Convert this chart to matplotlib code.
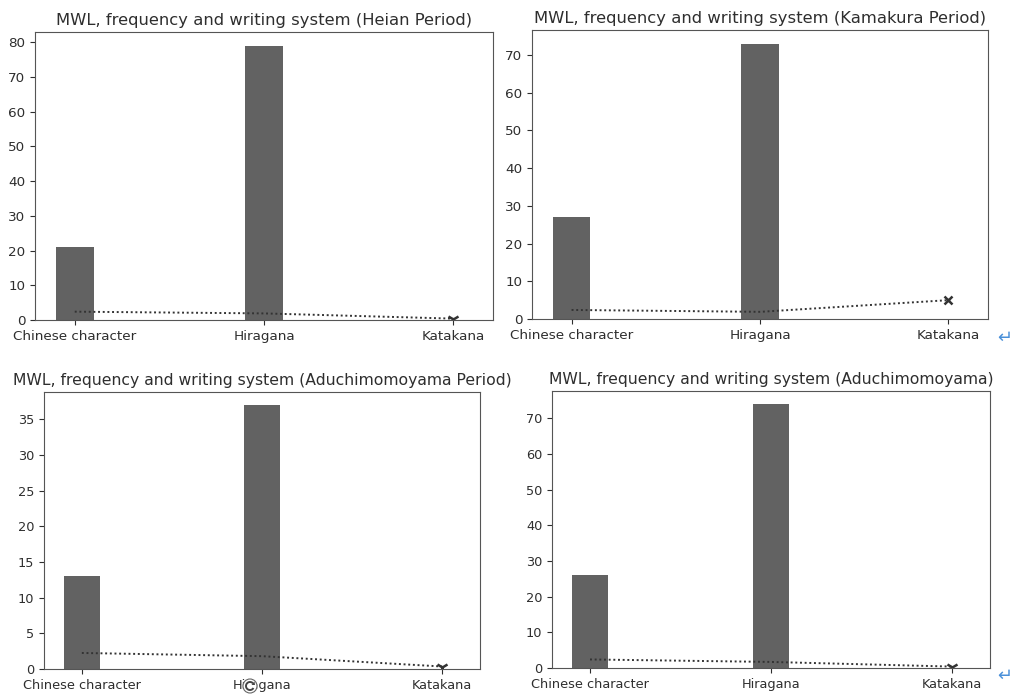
import matplotlib
matplotlib.use("Agg")
import matplotlib.pyplot as plt
from matplotlib.patches import Circle, Arc, Polygon

# Writing systems on the x axis
categories = ["Chinese character", "Hiragana", "Katakana"]

# Panel titles
titles = [
    "MWL, frequency and writing system (Heian Period)",
    "MWL, frequency and writing system (Kamakura Period)",
    "MWL, frequency and writing system (Aduchimomoyama Period)",
    "MWL, frequency and writing system (Aduchimomoyama)",
]

# Frequency (bars)
freq_heian = [21, 79, 0]
freq_kamakura = [27, 73, 0]
freq_aduchi_period = [13, 37, 0]
freq_aduchi = [26, 74, 0]

# Mean word length (dotted line)
mwl_heian = [2.4, 1.9, 0.4]
mwl_kamakura = [2.4, 1.9, 5.0]
mwl_aduchi_period = [2.25, 1.8, 0.35]
mwl_aduchi = [2.4, 1.7, 0.4]

W, H = 1013, 698
fig = plt.figure(figsize=(W / 100, H / 100), dpi=100)
fig.patch.set_facecolor("white")

# axes boxes in pixels: left, right, top, bottom
boxes = [
    (35, 493, 32, 320),
    (532, 988, 30, 319),
    (44, 480, 392, 669),
    (552, 990, 391, 668),
]
freqs = [freq_heian, freq_kamakura, freq_aduchi_period, freq_aduchi]
mwls = [mwl_heian, mwl_kamakura, mwl_aduchi_period, mwl_aduchi]
markers = ["1", "x", "1", "1"]
marker_sizes = [9, 6, 9, 9]
# the lower pair is shown a little smaller
scales = [1.0, 1.0, 0.957, 0.957]

text_color = "#2e2e2e"
for box, title, fr, mw, mk, ms, sc in zip(boxes, titles, freqs, mwls,
                                          markers, marker_sizes, scales):
    l, r, t, b = box
    ax = fig.add_axes([l / W, 1 - b / H, (r - l) / W, (b - t) / H])
    x = list(range(len(categories)))
    ax.bar(x, fr, width=0.2, color="#626262")
    ax.plot(x, mw, linestyle=(0, (1, 1.4)), color="#333333", linewidth=1.4,
            marker=mk, markevery=[2], markersize=ms, markeredgewidth=1.8)
    ax.set_xticks(x)
    ax.set_xticklabels(categories)
    ax.tick_params(labelsize=9.7 * sc, colors=text_color)
    for s in ax.spines.values():
        s.set_color("#555555")
    ax.set_title(title, fontsize=11.8 * sc, color=text_color, pad=5)

# paragraph marks beside the right-hand panels
for yp in (338, 676):
    fig.text(1005 / W, 1 - yp / H, "\u21b5", color="#4a90d9",
             fontsize=13, ha="center", va="center")

# rotation handle over the lower-left panel (drawn in pixel coordinates)
cx, cy = 250, H - 686
fig.patches.append(Circle((cx, cy), 7, transform=None, facecolor="white",
                          edgecolor="#666666", linewidth=0.8))
fig.patches.append(Arc((cx, cy), 8, 8, theta1=40, theta2=330, transform=None,
                       edgecolor="#444444", linewidth=1.4))
fig.patches.append(Polygon([(cx + 5, cy + 1), (cx + 1.5, cy + 1),
                            (cx + 4.5, cy + 4.5)], closed=True,
                           transform=None, facecolor="#444444",
                           edgecolor="none"))

fig.savefig("out.png", dpi=100, facecolor="white")
